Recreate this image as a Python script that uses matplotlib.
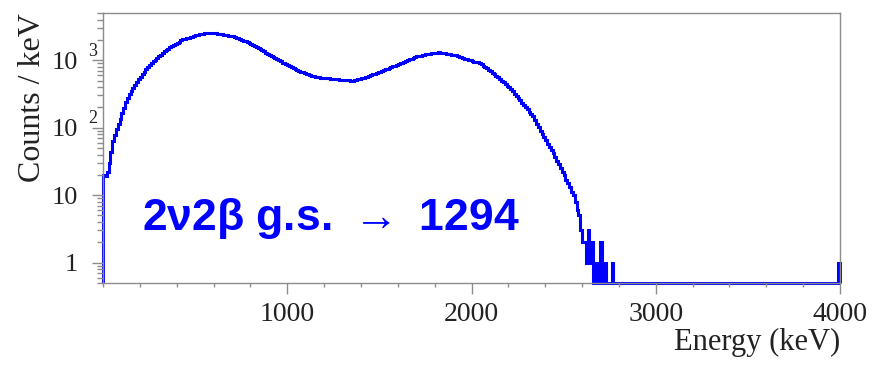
import numpy as np
import matplotlib.pyplot as plt
import matplotlib.transforms as mtransforms
from matplotlib.ticker import FixedLocator, FixedFormatter, LogLocator, MultipleLocator, NullFormatter

plt.rcParams['font.family'] = ['Liberation Serif', 'DejaVu Serif']
plt.rcParams['mathtext.fontset'] = 'custom'
plt.rcParams['mathtext.rm'] = 'Liberation Sans:bold'

# 2v2b spectrum, counts per 10 keV bin starting at 0 keV (one row = 100 keV)
bin_width = 10
counts = [
    20, 19, 22, 30, 44, 64, 78, 94, 112, 135,
    163, 198, 240, 279, 313, 351, 393, 431, 472, 518,
    568, 622, 676, 729, 788, 851, 908, 966, 1021, 1079,
    1140, 1205, 1274, 1349, 1426, 1483, 1545, 1607, 1671, 1738,
    1807, 1884, 1959, 2037, 2075, 2113, 2153, 2193, 2234, 2280,
    2333, 2382, 2438, 2455, 2472, 2489, 2500, 2518, 2535, 2529,
    2512, 2495, 2472, 2455, 2427, 2399, 2371, 2344, 2312, 2286,
    2259, 2208, 2158, 2104, 2051, 2000, 1950, 1905, 1858, 1811,
    1754, 1687, 1626, 1567, 1507, 1452, 1396, 1346, 1294, 1247,
    1199, 1156, 1114, 1072, 1033, 995, 959, 923, 893, 865,
    838, 811, 785, 760, 736, 713, 692, 673, 658, 644,
    630, 617, 603, 589, 575, 564, 561, 557, 553, 548,
    544, 541, 536, 532, 528, 525, 522, 519, 516, 514,
    511, 508, 506, 502, 500, 498, 502, 512, 520, 528,
    538, 547, 557, 569, 583, 598, 614, 630, 646, 662,
    679, 695, 713, 731, 750, 769, 789, 809, 830, 849,
    871, 895, 918, 944, 971, 998, 1026, 1054, 1084, 1114,
    1140, 1156, 1169, 1186, 1202, 1216, 1233, 1250, 1265, 1282,
    1288, 1297, 1303, 1297, 1279, 1265, 1250, 1233, 1219, 1202,
    1189, 1175, 1153, 1130, 1104, 1081, 1057, 1035, 1014, 991,
    971, 953, 938, 925, 912, 871, 832, 793, 755, 721,
    687, 655, 621, 587, 555, 525, 497, 469, 444, 419,
    396, 370, 344, 318, 295, 274, 254, 236, 218, 202,
    187, 171, 160, 147, 130, 115, 102, 90, 81, 72,
    65, 58, 52, 47, 42, 37, 32, 29, 25, 22,
    20, 17, 15, 13, 11, 10, 8, 6, 5, 3,
    2, 2, 1, 3, 1, 2, 0, 1, 0, 0,
    2, 0, 1, 0, 0, 0, 1, 0, 0, 0,
]
last_bin_count = 1
e_max = 4000

x_major = [1000, 2000, 3000, 4000]
y_major = [1, 10, 100, 1000]
y_labels = ['1', '10', '10', '10']
y_exponents = {100: '2', 1000: '3'}
y_min, y_max = 0.5, 5000

blue = '#0000ff'
frame = '#8c8c8c'
ink = '#222222'

edges = np.arange(0, e_max + bin_width, bin_width)
values = np.zeros(len(edges) - 1)
values[:len(counts)] = counts
values[-1] = last_bin_count
# empty bins sit on the bottom of the log frame
shown = np.where(values > 0, values, y_min)

fig = plt.figure(figsize=(8.83, 3.68), dpi=100)
ax = fig.add_axes([103 / 883, 85 / 368, 737 / 883, 270 / 368])

ax.stairs(shown, edges, baseline=y_min, color=blue, lw=2.2, clip_on=False)

ax.set_yscale('log')
ax.set_xlim(0, e_max)
ax.set_ylim(y_min, y_max)

ax.xaxis.set_major_locator(FixedLocator(x_major))
ax.xaxis.set_minor_locator(MultipleLocator(200))
ax.yaxis.set_major_locator(FixedLocator(y_major))
ax.yaxis.set_major_formatter(FixedFormatter(y_labels))
ax.yaxis.set_minor_locator(LogLocator(base=10, subs=np.arange(2, 10)))
ax.yaxis.set_minor_formatter(NullFormatter())

ax.tick_params(axis='both', which='both', direction='out', color=frame, width=1,
               labelcolor=ink, top=False, right=False)
ax.tick_params(axis='both', which='major', length=8)
ax.tick_params(axis='y', which='minor', length=4.5)
ax.tick_params(axis='x', which='minor', length=3)
ax.tick_params(axis='x', which='major', labelsize=20, pad=6)
ax.tick_params(axis='y', which='major', labelsize=19, pad=10)

# ROOT-style exponents hanging to the right of the "10"
sup = mtransforms.offset_copy(mtransforms.blended_transform_factory(ax.transAxes, ax.transData),
                              fig=fig, x=-15, y=9, units='dots')
for val, ex in y_exponents.items():
    ax.text(0, val, ex, transform=sup, fontsize=13, color=ink, ha='left', va='center')

for s in ax.spines.values():
    s.set_color(frame)
    s.set_linewidth(1)

ax.set_xlabel('Energy (keV)', fontsize=22, loc='right', color=ink, labelpad=0)
ax.set_ylabel('Counts / keV', fontsize=23, loc='top', color=ink, labelpad=3)

ax.text(0.053, 0.196, '2\u03bd2\u03b2 g.s. $\\rightarrow$ 1294', transform=ax.transAxes,
        family=['Liberation Sans', 'DejaVu Sans'], weight='bold', fontsize=32,
        color=blue, va='baseline', ha='left')

fig.savefig('out.png', dpi=100)
